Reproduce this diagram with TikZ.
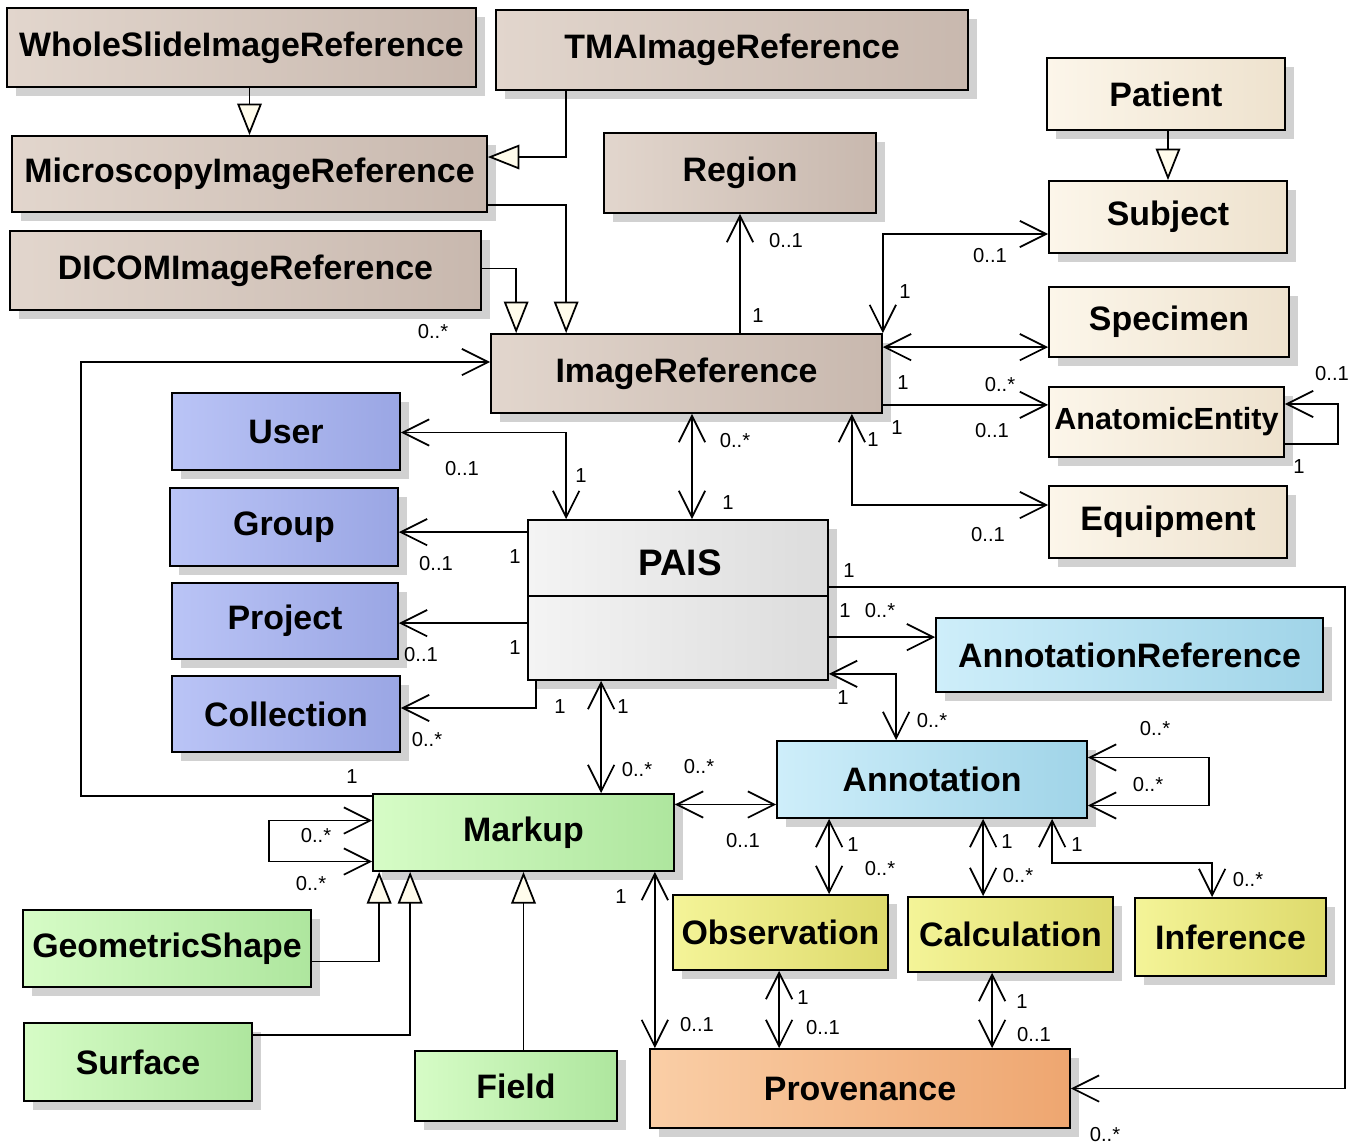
\documentclass[tikz,border=0pt]{standalone}
\usepackage{fontspec}
\setmainfont{Liberation Sans}
\usetikzlibrary{arrows.meta,shadows,calc}

\definecolor{tanL}{RGB}{226,214,205}
\definecolor{tanR}{RGB}{200,184,174}
\definecolor{creamL}{RGB}{252,246,234}
\definecolor{creamR}{RGB}{238,226,206}
\definecolor{blueL}{RGB}{186,196,246}
\definecolor{blueR}{RGB}{154,166,228}
\definecolor{greyL}{RGB}{244,244,244}
\definecolor{greyR}{RGB}{220,220,220}
\definecolor{cyanL}{RGB}{206,238,250}
\definecolor{cyanR}{RGB}{160,212,232}
\definecolor{greenL}{RGB}{214,252,198}
\definecolor{greenR}{RGB}{174,230,158}
\definecolor{yellowL}{RGB}{244,244,152}
\definecolor{yellowR}{RGB}{222,218,108}
\definecolor{orangeL}{RGB}{250,206,166}
\definecolor{orangeR}{RGB}{238,166,112}
\definecolor{triW}{RGB}{255,252,236}

\begin{document}
\begin{tikzpicture}[
    x=0.02cm, y=-0.02cm,
    box/.style={draw, line width=1pt, inner sep=2pt, align=center,
      font=\fontsize{19.3}{23}\selectfont\bfseries,
      drop shadow={shadow xshift=5pt, shadow yshift=-5pt, fill=black!40, opacity=0.45}},
    tanbox/.style={box, left color=tanL, right color=tanR},
    creambox/.style={box, left color=creamL, right color=creamR},
    bluebox/.style={box, left color=blueL, right color=blueR},
    greybox/.style={box, left color=greyL, right color=greyR},
    cyanbox/.style={box, left color=cyanL, right color=cyanR},
    greenbox/.style={box, left color=greenL, right color=greenR},
    yellowbox/.style={box, left color=yellowL, right color=yellowR},
    orangebox/.style={box, left color=orangeL, right color=orangeR},
    mult/.style={font=\fontsize{11.5}{13}\selectfont, inner sep=0pt},
    assoc/.style={line width=1pt, -{Straight Barb[length=15pt,width=15pt]}},
    both/.style={line width=1pt, {Straight Barb[length=15pt,width=15pt]}-{Straight Barb[length=15pt,width=15pt]}},
    gen/.style={line width=1pt, -{Triangle[length=18pt,width=14pt,fill=triW]}}
  ]
    \useasboundingbox (0,0) rectangle (1363,1144);

    % image references
    \node[tanbox, minimum width=9.38cm, minimum height=1.58cm] (whole) at (241.5,47.5) {WholeSlideImageReference};
    \node[tanbox, minimum width=9.44cm, minimum height=1.6cm] (tma) at (732,50) {TMAImageReference};
    \node[tanbox, minimum width=9.5cm, minimum height=1.52cm] (micro) at (249.5,174) {MicroscopyImageReference};
    \node[tanbox, minimum width=9.42cm, minimum height=1.58cm] (dicom) at (245.5,270.5) {DICOMImageReference};
    \node[tanbox, minimum width=5.44cm, minimum height=1.6cm] (region) at (740,173) {Region};
    \node[tanbox, minimum width=7.82cm, minimum height=1.58cm] (ir) at (686.5,373.5) {ImageReference};

    % subject side
    \node[creambox, minimum width=4.76cm, minimum height=1.44cm] (patient) at (1166,94) {Patient};
    \node[creambox, minimum width=4.76cm, minimum height=1.44cm] (subject) at (1168,217) {Subject};
    \node[creambox, minimum width=4.8cm, minimum height=1.4cm] (specimen) at (1169,322) {Specimen};
    \node[creambox, minimum width=4.7cm, minimum height=1.4cm, inner sep=0pt,
      font=\fontsize{17.4}{20}\selectfont\bfseries] (anat) at (1166.5,422) {AnatomicEntity};
    \node[creambox, minimum width=4.76cm, minimum height=1.44cm] (equip) at (1168,522) {Equipment};

    % users and projects
    \node[bluebox, minimum width=4.56cm, minimum height=1.54cm] (user) at (286,431.5) {User};
    \node[bluebox, minimum width=4.56cm, minimum height=1.56cm] (group) at (284,527) {Group};
    \node[bluebox, minimum width=4.52cm, minimum height=1.52cm] (project) at (285,621) {Project};
    \node[bluebox, minimum width=4.56cm, minimum height=1.52cm] (collection) at (286,714) {Collection};

    % PAIS
    \node[greybox, minimum width=6cm, minimum height=3.2cm] (pais) at (678,600) {};
    \node[font=\fontsize{21}{25}\selectfont\bfseries] (paistitle) at (680,563) {PAIS};
    \draw[line width=1pt] ($(pais.north west)+(0,77)$) -- ($(pais.north east)+(0,77)$);

    % annotations
    \node[cyanbox, minimum width=7.74cm, minimum height=1.48cm] (annref) at (1129.5,655) {AnnotationReference};
    \node[cyanbox, minimum width=6.2cm, minimum height=1.54cm] (annot) at (932,779.5) {Annotation};
    \node[greenbox, minimum width=6.02cm, minimum height=1.54cm] (markup) at (523.5,832.5) {Markup};
    \node[greenbox, minimum width=5.76cm, minimum height=1.54cm] (geom) at (167,948.5) {GeometricShape};
    \node[greenbox, minimum width=4.56cm, minimum height=1.56cm] (surface) at (138,1062) {Surface};
    \node[greenbox, minimum width=4.04cm, minimum height=1.4cm] (field) at (516,1086) {Field};
    \node[yellowbox, minimum width=4.3cm, minimum height=1.5cm] (obs) at (780.5,932.5) {Observation};
    \node[yellowbox, minimum width=4.1cm, minimum height=1.5cm] (calc) at (1010.5,934.5) {Calculation};
    \node[yellowbox, minimum width=3.82cm, minimum height=1.56cm] (infer) at (1230.5,937) {Inference};
    \node[orangebox, minimum width=8.4cm, minimum height=1.58cm] (prov) at (860,1088.5) {Provenance};

    % generalizations
    \draw[gen] (micro.north |- whole.south) -- (micro.north);
    \draw[gen] ($(tma.south west)+(71,0)$) |- ($(micro.east)+(0,-17)$);
    \draw[gen] ($(micro.east)+(0,31)$) -| ($(ir.north west)+(76,0)$);
    \draw[gen] ($(dicom.east)+(0,-2)$) -| ($(ir.north west)+(26,0)$);
    \draw[gen] (subject.north |- patient.south) -- (subject.north);
    \draw[gen] ($(geom.east)+(0,13)$) -| ($(markup.south west)+(7,0)$);
    \draw[gen] ($(surface.east)+(0,-27)$) -| ($(markup.south west)+(38,0)$);
    \draw[gen] (markup.south |- field.north) -- (markup.south);

    % image reference associations
    \draw[assoc] (region.south |- ir.north) -- (region.south);
    \draw[both] (ir.north east) |- ($(subject.west)+(0,17)$);
    \draw[both] ($(ir.north east)+(0,14)$) coordinate (spc) -- (spc -| specimen.west);
    \draw[assoc] ($(ir.south east)+(0,-9)$) coordinate (anc) -- (anc -| anat.west);
    \draw[assoc] ($(anat.east)+(0,22)$) -| ($(anat.east)+(53,-18)$) -- ($(anat.east)+(0,-18)$);
    \draw[both] ($(ir.south east)+(-31,0)$) |- ($(equip.west)+(0,-17)$);
    \draw[both] ($(pais.north)+(14,0)$) coordinate (ipc) -- (ipc |- ir.south);
    \coordinate (irbend) at (81,362);
    \draw[assoc] ($(markup.north west)+(0,3)$) -| (irbend) -- (ir.west |- irbend);

    % PAIS associations
    \draw[both] ($(pais.north west)+(39,0)$) |- ($(user.east)+(0,1)$);
    \draw[assoc] ($(pais.north west)+(0,13)$) coordinate (grc) -- (grc -| group.east);
    \draw[assoc] ($(pais.north west)+(0,104)$) coordinate (prc) -- (prc -| project.east);
    \draw[assoc] ($(pais.south west)+(9,0)$) |- ($(collection.east)+(0,-6)$);
    \draw[both] ($(pais.south west)+(74,0)$) coordinate (pmc) -- (pmc |- markup.north);
    \draw[assoc] ($(pais.north east)+(0,118)$) coordinate (arc) -- (arc -| annref.west);
    \draw[both] ($(annot.north west)+(120,0)$) |- ($(pais.south east)+(0,-7)$);
    \coordinate (provbend) at (1345,587);
    \draw[assoc] (pais.east |- provbend) -- (provbend) |- (prov.east);

    % markup and annotation associations
    \draw[both] ($(markup.east)+(0,-28)$) coordinate (mac) -- (mac -| annot.west);
    \draw[both] ($(annot.east)+(0,-22)$) -| ($(annot.east)+(121,26)$) -- ($(annot.east)+(0,26)$);
    \draw[both] ($(markup.west)+(0,-12)$) -| ($(markup.west)+(-103,29)$) -- ($(markup.west)+(0,29)$);
    \draw[both] ($(markup.south east)+(-20,0)$) coordinate (mpc) -- (mpc |- prov.north);
    \draw[both] ($(annot.south west)+(53,0)$) coordinate (aoc) -- (aoc |- obs.north);
    \draw[both] ($(annot.south west)+(207,0)$) coordinate (acc) -- (acc |- calc.north);
    \draw[both] ($(annot.south west)+(276,0)$) -- ++(0,44) -| ($(infer.north west)+(78,0)$);
    \draw[both] ($(obs.south west)+(107,0)$) coordinate (opc) -- (opc |- prov.north);
    \draw[both] ($(calc.south west)+(85,0)$) coordinate (cpc) -- (cpc |- prov.north);

    % multiplicities
    \node[mult] (m1) at (433,332) {0..*};
    \node[mult] (m2) at (786,241) {0..1};
    \node[mult] (m3) at (758,316) {1};
    \node[mult] (m4) at (990,256) {0..1};
    \node[mult] (m5) at (905,292) {1};
    \node[mult] (m6) at (903,383) {1};
    \node[mult] (m7) at (1000,385) {0..*};
    \node[mult] (m8) at (897,428) {1};
    \node[mult] (m9) at (992,431) {0..1};
    \node[mult] (m10) at (1332,374) {0..1};
    \node[mult] (m11) at (1299,467) {1};
    \node[mult] (m12) at (873,440) {1};
    \node[mult] (m13) at (988,535) {0..1};
    \node[mult] (m14) at (735,441) {0..*};
    \node[mult] (m15) at (728,503) {1};
    \node[mult] (m16) at (462,469) {0..1};
    \node[mult] (m17) at (581,476) {1};
    \node[mult] (m18) at (436,564) {0..1};
    \node[mult] (m19) at (515,557) {1};
    \node[mult] (m20) at (421,655) {0..1};
    \node[mult] (m21) at (515,648) {1};
    \node[mult] (m22) at (427,740) {0..*};
    \node[mult] (m23) at (560,707) {1};
    \node[mult] (m24) at (623,707) {1};
    \node[mult] (m25) at (637,770) {0..*};
    \node[mult] (m26) at (699,767) {0..*};
    \node[mult] (m27) at (849,571) {1};
    \node[mult] (m28) at (845,611) {1};
    \node[mult] (m29) at (880,611) {0..*};
    \node[mult] (m30) at (843,698) {1};
    \node[mult] (m31) at (932,721) {0..*};
    \node[mult] (m32) at (1155,729) {0..*};
    \node[mult] (m33) at (1148,785) {0..*};
    \node[mult] (m34) at (352,777) {1};
    \node[mult] (m35) at (316,836) {0..*};
    \node[mult] (m36) at (311,884) {0..*};
    \node[mult] (m37) at (743,841) {0..1};
    \node[mult] (m38) at (853,845) {1};
    \node[mult] (m39) at (880,869) {0..*};
    \node[mult] (m40) at (1007,842) {1};
    \node[mult] (m41) at (1018,876) {0..*};
    \node[mult] (m42) at (1077,845) {1};
    \node[mult] (m43) at (1248,880) {0..*};
    \node[mult] (m44) at (621,897) {1};
    \node[mult] (m45) at (697,1025) {0..1};
    \node[mult] (m46) at (803,998) {1};
    \node[mult] (m47) at (823,1028) {0..1};
    \node[mult] (m48) at (1022,1002) {1};
    \node[mult] (m49) at (1034,1035) {0..1};
    \node[mult] (m50) at (1105,1135) {0..*};
  \end{tikzpicture}
\end{document}
